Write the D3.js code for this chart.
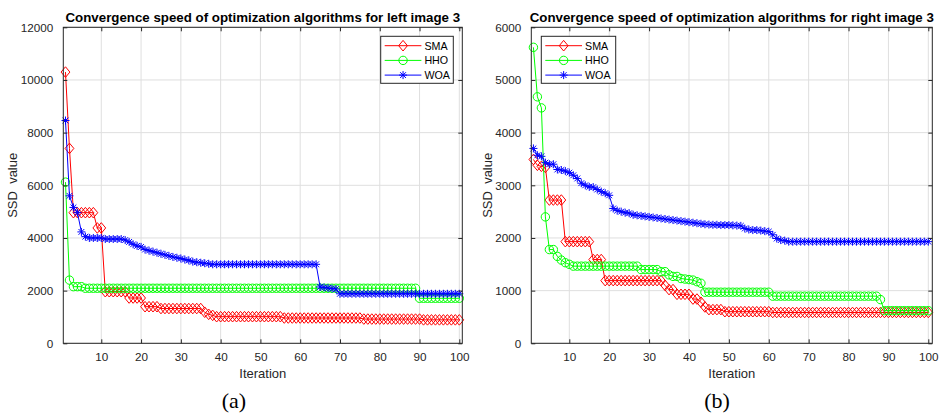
<!DOCTYPE html>
<html>
<head>
<meta charset="utf-8">
<script src="https://cdn.jsdelivr.net/npm/d3@7"></script>
<style>
  body { margin: 0; background: #fff; }
  svg text { font-family: "Liberation Sans", Arial, Helvetica, sans-serif; }
</style>
</head>
<body>
<svg id="chart" width="940" height="417"></svg>
<script>
// iterations 1..100
var iterations = d3.range(1, 101);
var seriesNames = ["SMA", "HHO", "WOA"];

// (a) left image 3
var smaLeft = [
  10300,7400,4960,4960,4960,4960,4960,4960,4380,4380,
  1960,1960,1960,1960,1960,1960,1720,1720,1720,1720,
  1390,1390,1390,1390,1320,1320,1320,1320,1320,1320,
  1320,1320,1320,1320,1320,1180,1100,1060,1010,1010,
  1010,1010,1010,1010,1010,1010,1010,1010,1010,1010,
  1010,1010,1010,1010,1010,960,960,960,960,960,
  960,960,960,960,960,960,960,960,960,960,
  960,960,960,960,960,920,920,920,920,920,
  920,920,920,920,920,920,920,920,920,920,
  890,890,890,890,890,890,890,890,890,890
];
var hhoLeft = [
  6120,2400,2150,2150,2150,2090,2090,2090,2090,2090,
  2090,2090,2090,2090,2090,2090,2090,2090,2090,2090,
  2090,2090,2090,2090,2090,2090,2090,2090,2090,2090,
  2090,2090,2090,2090,2090,2090,2090,2090,2090,2090,
  2090,2090,2090,2090,2090,2090,2090,2090,2090,2090,
  2090,2090,2090,2090,2090,2090,2090,2090,2090,2090,
  2090,2090,2090,2090,2090,2090,2090,2090,2090,2090,
  2090,2090,2090,2090,2090,2090,2090,2090,2090,2090,
  2090,2090,2090,2090,2090,2090,2090,2090,2090,1710,
  1710,1710,1710,1710,1710,1710,1710,1710,1710,1710
];
var woaLeft = [
  8460,5600,5160,4960,4230,4050,4000,4000,4000,4000,
  3960,3960,3960,3960,3960,3920,3850,3760,3700,3660,
  3560,3520,3480,3440,3400,3360,3320,3280,3250,3220,
  3180,3150,3100,3080,3060,3040,3020,3000,3000,3000,
  3000,3000,3000,3000,3000,3000,3000,3000,3000,3000,
  3000,3000,3000,3000,3000,3000,3000,3000,3000,3000,
  3000,3000,3000,3000,2140,2120,2100,2080,2060,1880,
  1880,1880,1880,1880,1880,1880,1880,1880,1880,1880,
  1880,1880,1880,1880,1880,1880,1880,1880,1880,1880,
  1880,1880,1880,1880,1880,1880,1880,1880,1880,1880
];

// (b) right image 3
var smaRight = [
  3490,3380,3360,3340,2720,2720,2720,2720,1930,1930,
  1930,1930,1930,1930,1930,1590,1590,1590,1190,1190,
  1190,1190,1190,1190,1190,1190,1190,1190,1190,1190,
  1190,1190,1190,1100,1020,1020,930,930,930,930,
  840,840,780,690,640,640,640,640,600,600,
  600,600,600,600,600,600,600,600,600,600,
  585,585,585,585,585,585,585,585,585,585,
  585,585,585,585,585,585,585,585,585,585,
  585,585,585,585,585,585,585,585,585,585,
  585,585,585,585,585,585,585,585,585,585
];
var hhoRight = [
  5620,4680,4470,2400,1780,1780,1650,1580,1530,1500,
  1465,1465,1465,1465,1465,1465,1465,1465,1465,1465,
  1465,1465,1465,1465,1465,1465,1465,1400,1400,1400,
  1400,1400,1360,1360,1300,1270,1270,1230,1220,1210,
  1200,1170,1140,970,970,970,970,970,970,970,
  970,970,970,970,970,970,970,970,970,970,
  895,895,895,895,895,895,895,895,895,895,
  895,895,895,895,895,895,895,895,895,895,
  895,895,895,895,895,895,895,830,620,620,
  620,620,620,620,620,620,620,620,620,620
];
var woaRight = [
  3700,3570,3550,3430,3400,3400,3300,3290,3270,3240,
  3190,3130,3040,3000,2970,2965,2920,2880,2850,2810,
  2560,2520,2500,2480,2470,2440,2430,2420,2410,2400,
  2390,2380,2370,2360,2350,2340,2330,2320,2310,2300,
  2290,2280,2270,2260,2255,2250,2250,2245,2245,2245,
  2240,2235,2230,2180,2160,2150,2150,2140,2130,2120,
  2060,1990,1960,1950,1930,1930,1930,1930,1930,1930,
  1930,1930,1930,1930,1930,1930,1930,1930,1930,1930,
  1930,1930,1930,1930,1930,1930,1930,1930,1930,1930,
  1930,1930,1930,1930,1930,1930,1930,1930,1930,1930
];

var xTicks = [10, 20, 30, 40, 50, 60, 70, 80, 90, 100];
var yTicksLeft = [0, 2000, 4000, 6000, 8000, 10000, 12000];
var yTicksRight = [0, 1000, 2000, 3000, 4000, 5000, 6000];

var colors = { SMA: "#ff0000", HHO: "#00ff00", WOA: "#0000ff" };
var axisColor = "#262626";

var svg = d3.select("#chart");

// marker shapes
var diamondPath = "M0,-5.3L4.4,0L0,5.3L-4.4,0Z";
var starPath = "M-4,0L4,0M0,-4L0,4M-2.9,-2.9L2.9,2.9M-2.9,2.9L2.9,-2.9";

function drawMarker(g, name, cx, cy) {
    if (name === "SMA") {
        g.append("path").attr("d", diamondPath)
            .attr("transform", "translate(" + cx + "," + cy + ")")
            .attr("fill", "none").attr("stroke", colors[name]).attr("stroke-width", 1);
    } else if (name === "HHO") {
        g.append("circle").attr("cx", cx).attr("cy", cy).attr("r", 4.2)
            .attr("fill", "none").attr("stroke", colors[name]).attr("stroke-width", 1);
    } else {
        g.append("path").attr("d", starPath)
            .attr("transform", "translate(" + cx + "," + cy + ")")
            .attr("fill", "none").attr("stroke", colors[name]).attr("stroke-width", 1);
    }
}

function drawPanel(cfg) {
    var left = cfg.left, right = cfg.right, top = 27.3, bottom = 343.3;
    var width = right - left, height = bottom - top;

    var x = d3.scaleLinear().domain(cfg.xDomain).range([left, right]);
    var y = d3.scaleLinear().domain([0, cfg.yMax]).range([bottom, top]);

    var g = svg.append("g");

    // grid
    g.append("g").selectAll("line").data(xTicks).enter().append("line")
        .attr("x1", function(d) { return x(d); }).attr("x2", function(d) { return x(d); })
        .attr("y1", top).attr("y2", bottom)
        .attr("stroke", "#dfdfdf").attr("stroke-width", 1);
    g.append("g").selectAll("line").data(cfg.yTicks).enter().append("line")
        .attr("y1", function(d) { return y(d); }).attr("y2", function(d) { return y(d); })
        .attr("x1", left).attr("x2", right)
        .attr("stroke", "#dfdfdf").attr("stroke-width", 1);

    // series
    var data = [cfg.sma, cfg.hho, cfg.woa];
    var line = d3.line()
        .x(function(d, i) { return x(iterations[i]); })
        .y(function(d) { return y(d); });

    seriesNames.forEach(function(name, k) {
        var sg = g.append("g");
        sg.append("path").datum(data[k])
            .attr("d", line)
            .attr("fill", "none")
            .attr("stroke", colors[name])
            .attr("stroke-width", 1);
        data[k].forEach(function(v, i) {
            drawMarker(sg, name, x(iterations[i]), y(v));
        });
    });

    // axes with inward ticks on all sides
    var fmt = d3.format("d");
    var xb = g.append("g").attr("transform", "translate(0," + bottom + ")")
        .call(d3.axisBottom(x).tickValues(xTicks).tickFormat(fmt).tickSize(-4).tickPadding(9).tickSizeOuter(0));
    var xt = g.append("g").attr("transform", "translate(0," + top + ")")
        .call(d3.axisTop(x).tickValues(xTicks).tickSize(-4).tickFormat("").tickSizeOuter(0));
    var yl = g.append("g").attr("transform", "translate(" + left + ",0)")
        .call(d3.axisLeft(y).tickValues(cfg.yTicks).tickFormat(fmt).tickSize(-4).tickPadding(10).tickSizeOuter(0));
    var yr = g.append("g").attr("transform", "translate(" + right + ",0)")
        .call(d3.axisRight(y).tickValues(cfg.yTicks).tickSize(-4).tickFormat("").tickSizeOuter(0));

    [xb, xt, yl, yr].forEach(function(a) {
        a.select(".domain").remove();
        a.selectAll("line").attr("stroke", axisColor);
        a.selectAll("text").attr("fill", axisColor)
            .style("font-family", "'Liberation Sans', Arial, sans-serif")
            .style("font-size", "11.7px");
    });

    // box
    g.append("rect")
        .attr("x", left).attr("y", top).attr("width", width).attr("height", height)
        .attr("fill", "none").attr("stroke", axisColor).attr("stroke-width", 1);

    // title
    g.append("text")
        .attr("x", (left + right) / 2).attr("y", 21.7)
        .attr("text-anchor", "middle")
        .style("font-size", "13.3px").style("font-weight", "bold")
        .attr("fill", "#000")
        .text(cfg.title);

    // axis labels
    g.append("text")
        .attr("x", (left + right) / 2).attr("y", 378.3)
        .attr("text-anchor", "middle")
        .style("font-size", "13px").attr("fill", axisColor)
        .text("Iteration");
    g.append("text")
        .attr("transform", "translate(" + cfg.yLabelX + "," + ((top + bottom) / 2) + ") rotate(-90)")
        .attr("text-anchor", "middle")
        .style("font-size", "13px").style("white-space", "pre").attr("fill", axisColor)
        .text("SSD  value");

    // legend
    var lg = g.append("g");
    lg.append("rect")
        .attr("x", cfg.legend.x).attr("y", 36.3)
        .attr("width", cfg.legend.w).attr("height", 47)
        .attr("fill", "#fff").attr("stroke", axisColor).attr("stroke-width", 1);
    seriesNames.forEach(function(name, k) {
        var ly = 45.7 + k * 14.7;
        var x1 = cfg.legend.x + 4, x2 = x1 + 36.7;
        lg.append("line").attr("x1", x1).attr("x2", x2).attr("y1", ly).attr("y2", ly)
            .attr("stroke", colors[name]).attr("stroke-width", 1);
        drawMarker(lg, name, (x1 + x2) / 2, ly);
        lg.append("text").attr("x", x2 + 3).attr("y", ly + 3.8)
            .style("font-size", "10.7px").attr("fill", "#000")
            .text(name);
    });

    // panel caption
    svg.append("text")
        .attr("x", cfg.captionX).attr("y", 408)
        .attr("text-anchor", "middle")
        .style("font-family", "'Liberation Serif', 'Times New Roman', serif")
        .style("font-size", "22px").attr("fill", "#000")
        .text(cfg.caption);
}

drawPanel({
    left: 63.3, right: 462.3, xDomain: [0.45, 100.75],
    yMax: 12000, yTicks: yTicksLeft,
    sma: smaLeft, hho: hhoLeft, woa: woaLeft,
    title: "Convergence speed of optimization algorithms for left image 3",
    yLabelX: 17, legend: { x: 380.7, w: 72.6 },
    caption: "(a)", captionX: 234
});

drawPanel({
    left: 531.3, right: 932.3, xDomain: [0.47, 101.0],
    yMax: 6000, yTicks: yTicksRight,
    sma: smaRight, hho: hhoRight, woa: woaRight,
    title: "Convergence speed of optimization algorithms for right image 3",
    yLabelX: 491.5, legend: { x: 541.3, w: 74.4 },
    caption: "(b)", captionX: 717
});
</script>
</body>
</html>
